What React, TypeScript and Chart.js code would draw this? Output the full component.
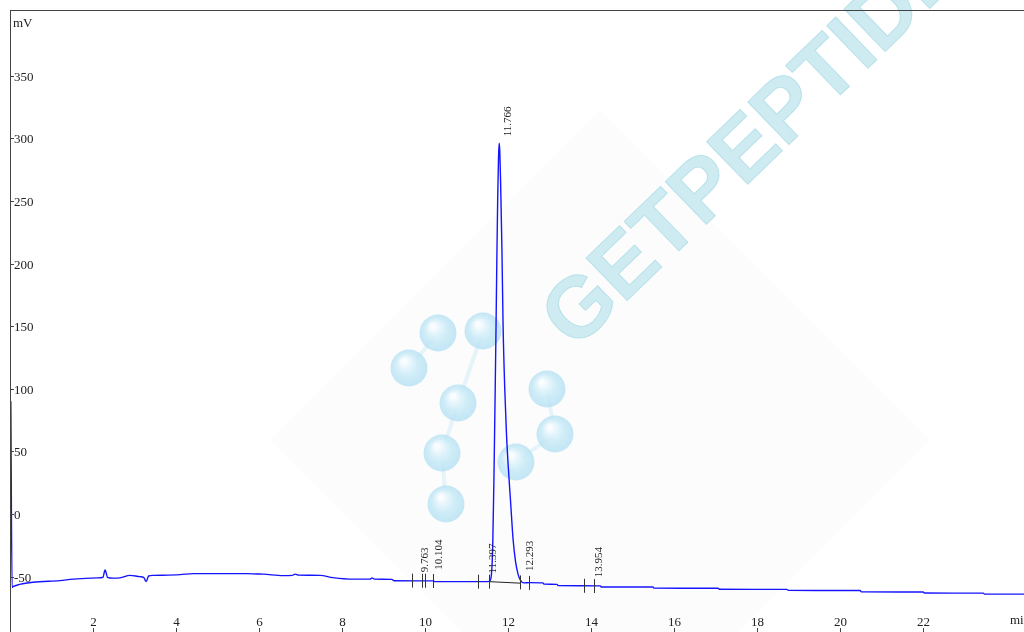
import React, { useEffect, useRef } from "react";
import { Chart, registerables } from "chart.js";
Chart.register(...registerables);

// Chromatogram trace (time in min, signal in mV)
const times = [
  0.02, 0.05, 0.07, 0.55, 1.2, 1.52, 2.1, 2.24, 2.29, 2.35, 2.48, 2.65, 2.89, 3.13, 3.22, 3.28, 3.34, 3.45,
  4.1, 4.41, 5.71, 5.95, 6.1, 6.58, 6.8, 6.87, 6.95, 7.47, 7.78, 8.27, 8.68, 8.72, 8.78, 9.2, 9.25, 10.19,
  10.25, 11.4, 11.55, 11.6, 11.63, 11.66, 11.69, 11.71, 11.73, 11.75, 11.77, 11.785, 11.8, 11.82, 11.85,
  11.88, 11.92, 11.96, 12.0, 12.06, 12.12, 12.18, 12.24, 12.3, 12.38, 12.53, 12.84, 12.87, 13.18, 13.21,
  14.22, 14.25, 15.49, 15.52, 17.06, 17.09, 18.72, 18.75, 20.48, 20.51, 22.0, 22.03, 23.45, 23.48, 24.5,
];
const signal = [
  90, -58.5, -58, -54.5, -53.2, -52, -51, -50.5, -44.7, -50.5, -51.2, -51, -49, -50, -50.5, -54, -49.5, -49,
  -48.4, -47.6, -47.6, -47.9, -48, -49.2, -49, -48, -48.8, -49, -50.8, -52, -52, -51, -52, -52.2, -53.3, -53.4,
  -54, -54, -53.8, -48, -26, 30, 100, 150, 205, 252, 285, 296, 290, 265, 215,
  150, 100, 65, 40, 10, -20, -38, -48, -53, -55, -54.8, -55, -56, -56.2, -57.2,
  -57.4, -58.3, -58.3, -59.2, -59.3, -60.1, -60.2, -61, -61.1, -62.2, -62.3, -63.1, -63.2, -64, -64,
];

const xTicks = [2, 4, 6, 8, 10, 12, 14, 16, 18, 20, 22];
const yTicks = [-50, 0, 50, 100, 150, 200, 250, 300, 350];

const peakTimes = [9.763, 10.104, 11.397, 11.766, 12.293, 13.954];
const peakLabels = ["9.763", "10.104", "11.397", "11.766", "12.293", "13.954"];
const peakHeights = [-52, -50, -53, 296, -51, -56];

const markTimes = [9.69, 9.92, 9.99, 10.19, 11.28, 11.54, 12.29, 12.51, 13.83, 14.07];
const markValues = [-53.2, -53.3, -53.3, -53.5, -54, -54, -54.6, -55, -57.3, -57.5];

const baselineTimes = [11.54, 12.29];
const baselineValues = [-54, -55.2];

const X_MIN = 0;
const X_MAX = 24.43;
const Y_MIN = -94.2;
const Y_MAX = 402.4;

const SERIF = '"Liberation Serif", "DejaVu Serif", serif';

const balls = [
  [409, 368], [438, 333], [483, 331], [458, 403], [442, 453], [446, 504], [547, 389], [555, 434], [516, 462],
];
const ballLinks = [[0, 1], [2, 3], [3, 4], [4, 5], [6, 7], [7, 8]];

const decor = {
  id: "decor",
  beforeDatasetsDraw(chart: any) {
    const ctx = chart.ctx as CanvasRenderingContext2D;
    ctx.save();
    // faint background diamond
    ctx.fillStyle = "rgba(0,0,0,0.012)";
    ctx.beginPath();
    ctx.moveTo(270, 440);
    ctx.lineTo(600, 110);
    ctx.lineTo(930, 440);
    ctx.lineTo(600, 770);
    ctx.closePath();
    ctx.fill();
    // watermark text
    ctx.translate(575, 351);
    ctx.rotate((-44 * Math.PI) / 180);
    ctx.font = 'bold 86px "Liberation Sans", Arial, sans-serif';
    ctx.fillStyle = "rgba(192,230,237,0.8)";
    ctx.strokeStyle = "rgba(170,218,228,0.7)";
    ctx.lineWidth = 1;
    ctx.textBaseline = "alphabetic";
    ctx.fillText("GETPEPTIDE", 0, 0);
    ctx.strokeText("GETPEPTIDE", 0, 0);
    ctx.restore();
    // molecule
    ctx.save();
    ctx.strokeStyle = "rgba(200,232,244,0.45)";
    ctx.lineWidth = 4;
    for (const [a, b] of ballLinks) {
      ctx.beginPath();
      ctx.moveTo(balls[a][0], balls[a][1]);
      ctx.lineTo(balls[b][0], balls[b][1]);
      ctx.stroke();
    }
    for (const [bx, by] of balls) {
      const g = ctx.createRadialGradient(bx - 5, by - 7, 2, bx, by, 19);
      g.addColorStop(0, "rgba(250,253,255,0.95)");
      g.addColorStop(0.55, "rgba(200,234,247,0.85)");
      g.addColorStop(1, "rgba(175,222,242,0.75)");
      ctx.fillStyle = g;
      ctx.beginPath();
      ctx.arc(bx, by, 18.5, 0, Math.PI * 2);
      ctx.fill();
    }
    ctx.restore();
  },
  afterDatasetsDraw(chart: any) {
    const ctx = chart.ctx as CanvasRenderingContext2D;
    const xs = chart.scales.x;
    const ys = chart.scales.y;
    const { left, top, right, bottom } = chart.chartArea;
    ctx.save();
    // integration marks
    ctx.strokeStyle = "#333";
    ctx.lineWidth = 1;
    markTimes.forEach((t, i) => {
      const x = Math.round(xs.getPixelForValue(t)) + 0.5;
      const y = ys.getPixelForValue(markValues[i]);
      ctx.beginPath();
      ctx.moveTo(x, y - 7);
      ctx.lineTo(x, y + 7);
      ctx.stroke();
    });
    // peak labels
    ctx.fillStyle = "#222";
    ctx.font = `11px ${SERIF}`;
    ctx.textAlign = "left";
    ctx.textBaseline = "middle";
    peakTimes.forEach((t, i) => {
      const x = xs.getPixelForValue(t) + 10;
      const y = ys.getPixelForValue(peakHeights[i]) - 7;
      ctx.save();
      ctx.translate(x, y);
      ctx.rotate(-Math.PI / 2);
      ctx.fillText(peakLabels[i], 0, 0);
      ctx.restore();
    });
    // frame
    ctx.strokeStyle = "#444";
    ctx.lineWidth = 1;
    ctx.beginPath();
    ctx.moveTo(left, top + 0.5);
    ctx.lineTo(right, top + 0.5);
    ctx.moveTo(left + 0.5, top);
    ctx.lineTo(left + 0.5, bottom);
    ctx.stroke();
    // y ticks
    ctx.font = `13px ${SERIF}`;
    ctx.fillStyle = "#222";
    ctx.textAlign = "left";
    ctx.textBaseline = "middle";
    yTicks.forEach((v) => {
      const y = Math.round(ys.getPixelForValue(v)) + 0.5;
      ctx.beginPath();
      ctx.moveTo(left, y);
      ctx.lineTo(left + 4, y);
      ctx.stroke();
      ctx.fillText(String(v), left + 4, y + 1);
    });
    ctx.fillText("mV", left + 3, 24);
    // x ticks
    ctx.textAlign = "center";
    xTicks.forEach((t) => {
      const x = Math.round(xs.getPixelForValue(t)) + 0.5;
      ctx.beginPath();
      ctx.moveTo(x, bottom - 4);
      ctx.lineTo(x, bottom);
      ctx.stroke();
      ctx.fillText(String(t), x, bottom - 9);
    });
    ctx.textAlign = "left";
    ctx.fillText("min", 1010, bottom - 11);
    ctx.restore();
  },
};

export default function App() {
  const ref = useRef<HTMLCanvasElement>(null);
  useEffect(() => {
    if (!ref.current) return;
    const trace = times.map((t, i) => ({ x: t, y: signal[i] }));
    const base = baselineTimes.map((t, i) => ({ x: t, y: baselineValues[i] }));
    const chart = new Chart(ref.current, {
      type: "line",
      data: {
        datasets: [
          {
            data: base,
            borderColor: "#222",
            borderWidth: 1,
            pointRadius: 0,
            tension: 0,
          },
          {
            data: trace,
            borderColor: "#1414ff",
            borderWidth: 1.4,
            pointRadius: 0,
            cubicInterpolationMode: "monotone",
          },
        ],
      },
      options: {
        responsive: false,
        animation: false,
        devicePixelRatio: 1,
        layout: { padding: { left: 10, top: 10, right: 0, bottom: 0 } },
        plugins: { legend: { display: false }, tooltip: { enabled: false } },
        scales: {
          x: { type: "linear", min: X_MIN, max: X_MAX, display: false },
          y: { type: "linear", min: Y_MIN, max: Y_MAX, display: false },
        },
      },
      plugins: [decor],
    });
    return () => chart.destroy();
  }, []);
  return (
    <div style={{ position: "absolute", left: 0, top: 0, width: 1024, height: 632, background: "#fff" }}>
      <canvas ref={ref} width={1024} height={632} />
    </div>
  );
}
